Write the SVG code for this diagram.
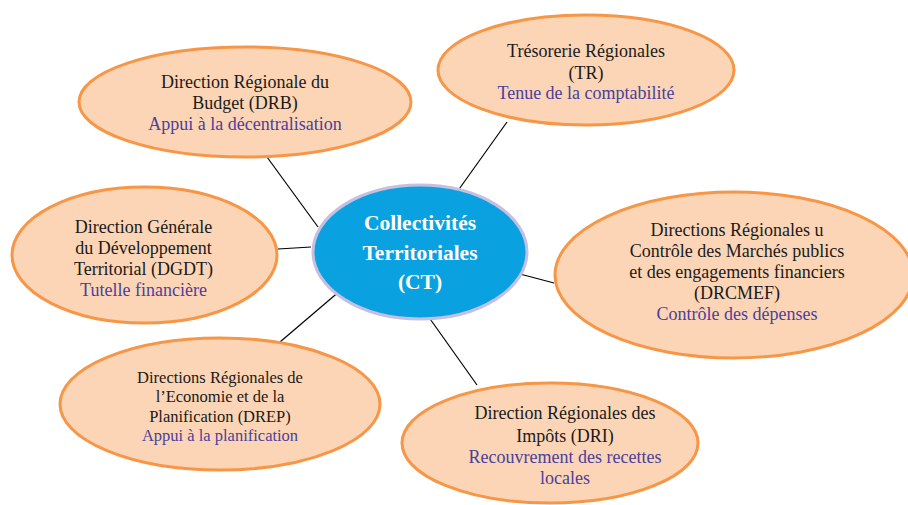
<svg xmlns="http://www.w3.org/2000/svg" width="908" height="505" viewBox="0 0 908 505">
<style>
.node ellipse{fill:#FBD5B5;stroke:#F79646;stroke-width:3}
.t{font-family:"Liberation Serif","Times New Roman",serif;font-size:18px;fill:#1a1a1a;text-anchor:middle}
.b{fill:#4B3F9C}
.s{font-size:16.5px}
.ct{font-family:"Liberation Serif","Times New Roman",serif;font-size:21.5px;font-weight:bold;fill:#ffffff;text-anchor:middle}
#connectors line{stroke:#000;stroke-width:1.2}
</style>
<rect width="908" height="505" fill="#ffffff"/>
<g id="connectors">
<line x1="267" y1="157" x2="318" y2="227"/>
<line x1="507" y1="122" x2="457" y2="192"/>
<line x1="278" y1="249" x2="311" y2="247"/>
<line x1="520" y1="274" x2="554" y2="283"/>
<line x1="341" y1="290" x2="280" y2="342"/>
<line x1="428" y1="316" x2="477" y2="385"/>
</g>
<g id="drb" class="node">
<ellipse cx="245" cy="102" rx="166" ry="55"/>
<text class="t" x="245" y="88">Direction Régionale du</text>
<text class="t" x="245" y="109">Budget (DRB)</text>
<text class="t b" x="245" y="130">Appui à la décentralisation</text>
</g>
<g id="tr" class="node">
<ellipse cx="586" cy="70" rx="148" ry="55"/>
<text class="t" x="586" y="57">Trésorerie Régionales</text>
<text class="t" x="586" y="79">(TR)</text>
<text class="t b" x="586" y="99">Tenue de la comptabilité</text>
</g>
<g id="dgdt" class="node">
<ellipse cx="144.5" cy="255" rx="132.5" ry="68"/>
<text class="t" x="143.5" y="233">Direction Générale</text>
<text class="t" x="143.5" y="254">du Développement</text>
<text class="t" x="143.5" y="275">Territorial (DGDT)</text>
<text class="t b" x="143.5" y="296">Tutelle financière</text>
</g>
<g id="ct">
<ellipse cx="420" cy="252" rx="107" ry="67" fill="#0AA1E1" stroke="#C6BFE0" stroke-width="3"/>
<text class="ct" x="420" y="230">Collectivités</text>
<text class="ct" x="420" y="260">Territoriales</text>
<text class="ct" x="420" y="289">(CT)</text>
</g>
<g id="drcmef" class="node">
<ellipse cx="734" cy="275" rx="179" ry="83"/>
<text class="t" x="737" y="236">Directions Régionales u</text>
<text class="t" x="737" y="257">Contrôle des Marchés publics</text>
<text class="t" x="737" y="278">et des engagements financiers</text>
<text class="t" x="737" y="299">(DRCMEF)</text>
<text class="t b" x="737" y="320">Contrôle des dépenses</text>
</g>
<g id="drep" class="node">
<ellipse cx="220" cy="404" rx="160" ry="66"/>
<text class="t s" x="220" y="383">Directions Régionales de</text>
<text class="t s" x="220" y="402">l’Economie et de la</text>
<text class="t s" x="220" y="422">Planification (DREP)</text>
<text class="t s b" x="220" y="441">Appui à la planification</text>
</g>
<g id="dri" class="node">
<ellipse cx="550" cy="443" rx="148" ry="60"/>
<text class="t" x="565" y="419">Direction Régionales des</text>
<text class="t" x="565" y="442">Impôts (DRI)</text>
<text class="t b" x="565" y="463">Recouvrement des recettes</text>
<text class="t b" x="565" y="484">locales</text>
</g>
</svg>
